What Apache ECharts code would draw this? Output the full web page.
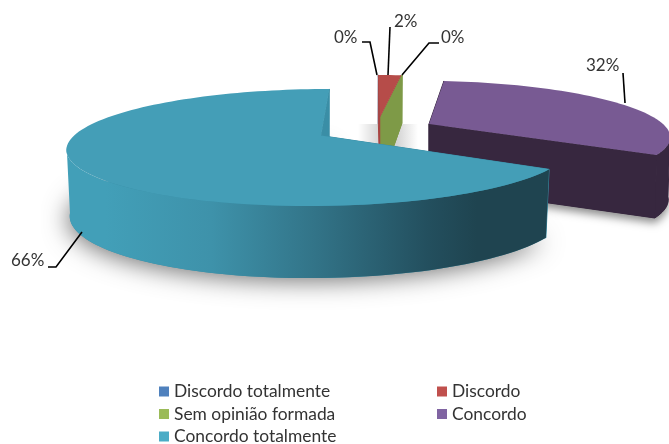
<!DOCTYPE html>
<html>
<head>
<meta charset="utf-8">
<script src="https://cdn.jsdelivr.net/npm/echarts@6/dist/echarts.min.js"></script>
<style>html,body{margin:0;padding:0;background:#fff}#c{width:669px;height:444px}</style>
</head>
<body>
<div id="c"></div>
<script>
// ---- data ----
var categories = ['Discordo totalmente', 'Discordo', 'Sem opinião formada', 'Concordo', 'Concordo totalmente'];
var percentValues = [0, 2, 0, 32, 66];
var legendColors = ['#4f81bd', '#c0504d', '#9bbb59', '#8064a2', '#4bacc6'];

// ---- 3D look: perspective projection of each exploded slice ----
var thin = {ax: 380, ay: 117, R: 215, A: 50, b: 0.19, X0: 10, H: 65, Ab: 71, bb: 0.2, Rb: 215};
var sliceLook = [
  Object.assign({}, thin, {top: '#4f81bd', wall: '#47739f'}),
  Object.assign({}, thin, {top: '#b64c49', wall: '#a94543', patch: true}),
  Object.assign({}, thin, {ax: 381, top: '#7e9a47', wall: '#7e9a47'}),
  {ax: 429, ay: 124, R: 234, A: 51.8, b: 0.196, X0: 59, H: 62, Ab: 53.4, bb: 0.196, Rb: 232,
   top: '#785a93', wall: '#37273f', blur: 9, blurColor: 'rgba(0,0,0,0.45)', blurX: 0, blurY: 5},
  {ax: 321, ay: 135.6, R: 247, A: 56.1, b: 0.2034, X0: -49, H: 65, Ab: 62, bb: 0.2, Rb: 244,
   top: '#449eb7', wall: '#3a8ea6', gradient: true, blur: 24, blurColor: 'rgba(0,0,0,0.55)', blurX: -2, blurY: 3}
];
var labelLook = [
  {x: 334, y: 38, line: [[362, 42], [370, 42], [377, 75]]},
  {x: 394, y: 22, line: [[390, 27], [388, 75]]},
  {x: 441, y: 38, line: [[439, 43], [429, 43], [402, 75]]},
  {x: 586, y: 66, line: [[623, 73], [625, 103]]},
  {x: 11, y: 261, line: [[48, 267], [56, 267], [82, 232]]}
];
var FONT = 'Lato, "Open Sans", sans-serif';
// the rim faces the viewer only between these bearings
var RIM_FROM = 101.3, RIM_TO = 258.7;

function project(s, deg, lower) {
  var t = deg * Math.PI / 180, u = Math.sin(t), v = Math.cos(t);
  var b = lower ? s.bb : s.b, R = lower ? s.Rb : s.R, A = lower ? s.Ab : s.A;
  var d = 1 + b * v;
  return [s.ax + s.X0 * (1 / d - 1) + R * u / d,
          s.ay + (lower ? s.H : 0) - A * v / d];
}
function arc(s, a0, a1, lower) {
  var pts = [], n = Math.max(1, Math.ceil((a1 - a0) / 2));
  for (var i = 0; i <= n; i++) pts.push(project(s, a0 + (a1 - a0) * i / n, lower));
  return pts;
}
function apex(s, lower) { return [s.ax, s.ay + (lower ? s.H : 0)]; }
function poly(pts, style) { return {type: 'polygon', silent: true, shape: {points: pts}, style: style}; }
function face(s, a) {
  return poly([apex(s, false), project(s, a, false), project(s, a, true), apex(s, true)],
    {fill: s.wall, stroke: s.wall, lineWidth: 1});
}

function renderSlice(params) {
  var i = params.seriesIndex, s = sliceLook[i];
  var total = percentValues.reduce(function (a, c) { return a + c; }, 0);
  var before = percentValues.slice(0, i).reduce(function (a, c) { return a + c; }, 0);
  var a0 = before / total * 360, a1 = (before + percentValues[i]) / total * 360;
  var kids = [];

  if (s.patch) {
    kids.push({type: 'rect', silent: true, shape: {x: 358, y: 124, width: 60, height: 26},
      style: {fill: new echarts.graphic.LinearGradient(0, 0, 1, 0, [
        {offset: 0, color: '#ffffff'}, {offset: 0.4, color: '#cfcfcf'},
        {offset: 0.65, color: '#d4d4d4'}, {offset: 1, color: '#ffffff'}])}});
  }
  if (s.blur) {
    kids.push(poly([apex(s, true)].concat(arc(s, a0, a1, true)), {
      fill: s.wall, shadowBlur: s.blur, shadowColor: s.blurColor, shadowOffsetY: s.blurY, shadowOffsetX: s.blurX}));
  }
  kids.push(face(s, a0));
  // rim
  var r0 = Math.max(a0, RIM_FROM), r1 = Math.min(a1, RIM_TO);
  if (r1 > r0) {
    var rimFill = s.wall;
    if (s.gradient) {
      rimFill = new echarts.graphic.LinearGradient(0, 0, 1, 0, [
        {offset: 0, color: '#429fb8'}, {offset: 0.08, color: '#429fb8'},
        {offset: 0.3, color: '#3e92aa'}, {offset: 0.52, color: '#327387'},
        {offset: 0.75, color: '#234f5e'}, {offset: 0.85, color: '#1f4450'}, {offset: 1, color: '#1f4450'}]);
    }
    kids.push(poly(arc(s, r0, r1, false).concat(arc(s, r0, r1, true).reverse()),
      {fill: rimFill, stroke: s.gradient ? null : s.wall, lineWidth: 1}));
  }
  kids.push(face(s, a1));
  // top surface
  if (a1 > a0) kids.push(poly([apex(s, false)].concat(arc(s, a0, a1, false)), {fill: s.top}));

  // label and leader
  var l = labelLook[i];
  kids.push({type: 'polyline', silent: true, z2: 50, shape: {points: l.line},
    style: {stroke: '#000', lineWidth: 1.6, fill: null}});
  kids.push({type: 'text', silent: true, z2: 50, x: l.x, y: l.y,
    style: {text: percentValues[i] + '%', fill: '#333333', font: '17px ' + FONT, verticalAlign: 'middle', align: 'left'}});
  return {type: 'group', children: kids};
}

var chart = echarts.init(document.getElementById('c'), null, {renderer: 'canvas', width: 669, height: 444});
var legendText = {fontFamily: FONT, fontSize: 17.4, color: '#333333'};
function legendColumn(left, names) {
  return {orient: 'vertical', left: left, top: 383, height: 100, padding: 0, itemWidth: 10, itemHeight: 10,
    itemGap: 5.5, icon: 'rect', textStyle: legendText, data: names, selectedMode: false};
}
chart.setOption({
  animation: false,
  backgroundColor: '#ffffff',
  color: legendColors,
  legend: [
    legendColumn(159, [categories[0], categories[2], categories[4]]),
    legendColumn(437, [categories[1], categories[3]])
  ],
  series: categories.map(function (name, i) {
    return {type: 'custom', name: name, coordinateSystem: 'none', silent: true, clip: false,
      itemStyle: {color: legendColors[i]}, data: [percentValues[i]], renderItem: renderSlice};
  })
});
</script>
</body>
</html>
